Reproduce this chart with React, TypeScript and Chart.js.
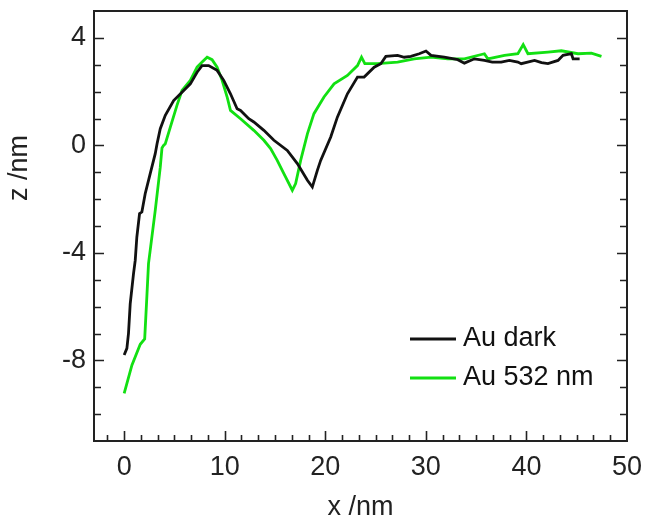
import React, { useEffect, useRef } from 'react';
import { Chart, registerables } from 'chart.js';

Chart.register(...registerables);

// Au dark (black)
const darkX = [0, 0.27, 0.43, 0.6, 0.93, 1.1, 1.26, 1.53, 1.76, 2.09, 2.59, 3.09, 3.27, 3.59, 4.09, 4.92, 5.75, 6.58, 7.25, 7.74, 8.4, 9.24, 9.9, 10.57, 11.23, 11.57, 12.39, 12.89, 13.89, 14.89, 16.22, 17.22, 18.22, 18.71, 19.21, 19.54, 20.54, 21.2, 22.2, 23.2, 23.86, 24.86, 25.52, 26.02, 27.19, 27.85, 28.51, 29.34, 30.01, 30.51, 31.83, 33.17, 33.83, 34.83, 35.82, 36.6, 37.49, 38.3, 39.15, 39.48, 40.81, 41.5, 42.14, 43.14, 43.64, 44.47, 44.64, 45.29];
const darkZ = [-7.8, -7.55, -7.0, -5.9, -4.77, -4.28, -3.41, -2.54, -2.48, -1.8, -1.05, -0.31, 0.06, 0.62, 1.12, 1.67, 1.98, 2.29, 2.72, 2.97, 2.97, 2.79, 2.42, 1.92, 1.36, 1.3, 0.99, 0.87, 0.56, 0.19, -0.19, -0.68, -1.3, -1.55, -0.93, -0.56, 0.31, 1.05, 1.92, 2.54, 2.54, 2.91, 3.04, 3.31, 3.35, 3.28, 3.31, 3.41, 3.51, 3.35, 3.28, 3.19, 3.06, 3.22, 3.16, 3.1, 3.1, 3.16, 3.1, 3.04, 3.16, 3.08, 3.04, 3.16, 3.35, 3.41, 3.22, 3.22];

// Au 532 nm (green)
const greenX = [0, 0.77, 1.6, 2.04, 2.26, 2.42, 2.59, 3.09, 3.59, 3.76, 3.92, 4.09, 4.59, 5.25, 5.75, 6.58, 7.25, 7.75, 8.25, 8.74, 9.24, 9.74, 10.24, 10.57, 11.57, 12.89, 13.89, 14.56, 15.22, 15.88, 16.72, 17.05, 17.55, 18.22, 18.87, 19.87, 20.87, 22.2, 23.2, 23.6, 23.93, 25.19, 27.19, 28.84, 30.51, 32.17, 33.83, 35.82, 36.16, 37.82, 39.15, 39.68, 40.15, 42.14, 43.47, 45.13, 46.46, 47.46];
const greenZ = [-9.23, -8.18, -7.4, -7.2, -5.6, -4.4, -3.9, -2.42, -0.81, -0.1, 0.0, 0.06, 0.68, 1.49, 2.04, 2.42, 2.91, 3.1, 3.28, 3.19, 2.91, 2.42, 1.8, 1.3, 0.99, 0.56, 0.19, -0.12, -0.56, -1.05, -1.67, -1.42, -0.56, 0.43, 1.18, 1.8, 2.29, 2.6, 2.97, 3.28, 3.04, 3.04, 3.1, 3.22, 3.28, 3.22, 3.22, 3.41, 3.22, 3.35, 3.41, 3.75, 3.41, 3.47, 3.52, 3.41, 3.43, 3.31];

const seriesLabels = ['Au dark', 'Au 532 nm'];
const seriesColors = ['#111111', '#12e012'];
const xTicks = [0, 10, 20, 30, 40, 50];
const yTicks = [-8, -4, 0, 4];
const xRange = [-3, 50];
const yRange = [-11, 5];
const xTitle = 'x /nm';
const yTitle = 'z /nm';

const FONT = '"Liberation Sans", Arial, sans-serif';
const FONT_SIZE = 27;
const AXIS_COLOR = '#222222';

const framePlugin = {
  id: 'framePlugin',
  afterDraw(chart: any) {
    const { ctx, chartArea } = chart;
    const xs = chart.scales.x;
    const ys = chart.scales.y;
    const { left, right, top, bottom } = chartArea;
    ctx.save();
    ctx.strokeStyle = AXIS_COLOR;
    ctx.lineWidth = 2;
    ctx.strokeRect(left, top, right - left, bottom - top);
    ctx.lineWidth = 1.6;
    // x ticks (bottom, inward)
    for (let k = -1; k <= 30; k++) {
      const v = (k * 10) / 6;
      if (v <= xRange[0] || v >= xRange[1]) continue;
      const major = k % 6 === 0;
      const px = Math.round(xs.getPixelForValue(v)) + 0.5;
      const len = major ? 10 : 6;
      ctx.beginPath();
      ctx.moveTo(px, bottom);
      ctx.lineTo(px, bottom - len);
      ctx.stroke();
    }
    // y ticks (left and right, inward)
    for (let v = yRange[0] + 1; v < yRange[1]; v++) {
      const major = yTicks.includes(v);
      const py = Math.round(ys.getPixelForValue(v)) + 0.5;
      const len = major ? 10 : 7;
      ctx.beginPath();
      ctx.moveTo(left, py);
      ctx.lineTo(left + len, py);
      ctx.moveTo(right, py);
      ctx.lineTo(right - len, py);
      ctx.stroke();
    }
    // axis titles
    ctx.fillStyle = AXIS_COLOR;
    ctx.font = `${FONT_SIZE}px ${FONT}`;
    ctx.textAlign = 'center';
    ctx.textBaseline = 'middle';
    ctx.fillText(xTitle, (left + right) / 2, 508);
    ctx.save();
    ctx.translate(20, 168);
    ctx.rotate(-Math.PI / 2);
    ctx.fillText(yTitle, 0, 0);
    ctx.restore();
    // legend
    const legendRows = [339, 378];
    ctx.textAlign = 'left';
    chart.data.datasets.forEach((ds: any, i: number) => {
      const y = legendRows[i];
      ctx.strokeStyle = ds.borderColor;
      ctx.lineWidth = 2.8;
      ctx.beginPath();
      ctx.moveTo(410, y);
      ctx.lineTo(456, y);
      ctx.stroke();
      ctx.fillStyle = '#111';
      ctx.fillText(ds.label, 463, y);
    });
    ctx.restore();
  },
};

export default function App() {
  const ref = useRef<HTMLCanvasElement | null>(null);
  useEffect(() => {
    if (!ref.current) return;
    const chart = new Chart(ref.current, {
      type: 'line',
      data: {
        datasets: [
          {
            label: seriesLabels[0],
            data: darkX.map((x, i) => ({ x, y: darkZ[i] })),
            borderColor: seriesColors[0],
            borderWidth: 2.8,
            pointRadius: 0,
            tension: 0,
            fill: false,
          },
          {
            label: seriesLabels[1],
            data: greenX.map((x, i) => ({ x, y: greenZ[i] })),
            borderColor: seriesColors[1],
            borderWidth: 2.8,
            pointRadius: 0,
            tension: 0,
            fill: false,
          },
        ],
      },
      options: {
        responsive: false,
        animation: false,
        devicePixelRatio: 1,
        layout: { padding: { top: 11, right: 18, left: 0, bottom: 0 } },
        plugins: { legend: { display: false }, tooltip: { enabled: false } },
        scales: {
          x: {
            type: 'linear',
            min: xRange[0],
            max: xRange[1],
            grid: { display: false, drawTicks: false },
            border: { display: false },
            afterBuildTicks: (axis: any) => {
              axis.ticks = xTicks.map((v) => ({ value: v }));
            },
            afterFit: (s: any) => {
              s.height = 82;
              s.paddingLeft = 0;
              s.paddingRight = 0;
            },
            ticks: {
              font: { family: FONT, size: FONT_SIZE },
              color: AXIS_COLOR,
              padding: 10,
              maxRotation: 0,
              autoSkip: false,
            },
          },
          y: {
            type: 'linear',
            min: yRange[0],
            max: yRange[1],
            grid: { display: false, drawTicks: false },
            border: { display: false },
            afterBuildTicks: (axis: any) => {
              axis.ticks = yTicks.map((v) => ({ value: v }));
            },
            afterFit: (s: any) => {
              s.width = 94;
              s.paddingTop = 0;
              s.paddingBottom = 0;
            },
            ticks: {
              font: { family: FONT, size: FONT_SIZE },
              color: AXIS_COLOR,
              padding: 8,
              autoSkip: false,
            },
          },
        },
      },
      plugins: [framePlugin],
    } as any);
    return () => chart.destroy();
  }, []);
  return (
    <div style={{ position: 'fixed', left: 0, top: 0, width: 645, height: 523, background: '#fff' }}>
      <canvas ref={ref} width={645} height={523} style={{ width: 645, height: 523, display: 'block' }} />
    </div>
  );
}
